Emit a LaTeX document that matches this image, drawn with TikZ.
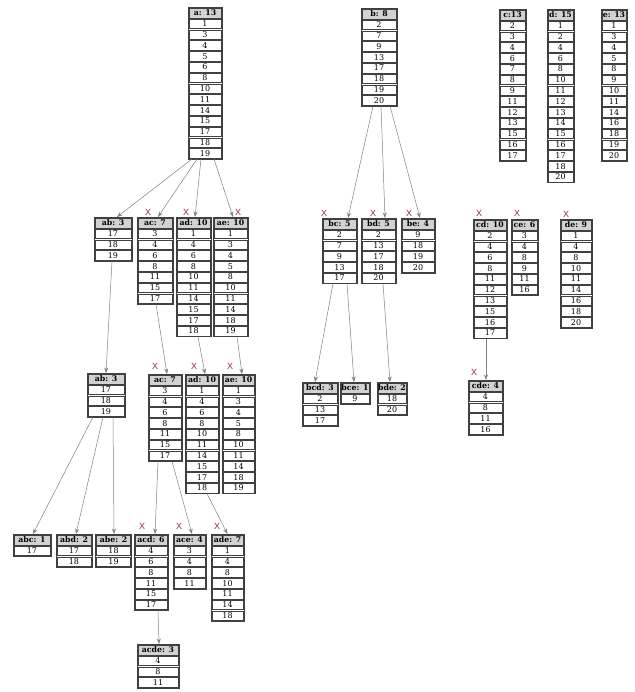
\documentclass[tikz,border=0pt]{standalone}
\usepackage{fontspec}
\setmainfont{DejaVu Serif}
\setsansfont{Liberation Sans}
\usetikzlibrary{arrows.meta}
\definecolor{cutred}{RGB}{150,35,70}
\definecolor{headgray}{RGB}{210,210,210}

\begin{document}
\begin{tikzpicture}[x=1pt, y=-1pt,
		cell/.style={draw=black!75, fill=white, line width=0.45pt, inner sep=0pt,
			minimum height=9.6pt, text height=5.9pt, text depth=0.3pt, anchor=north,
			font=\fontsize{8}{8}\selectfont},
		head/.style={cell, fill=headgray, font=\fontsize{7.8}{8}\selectfont\bfseries},
		frame/.style={draw=black!75, line width=0.55pt},
		link/.style={draw=gray, line width=0.5pt, -{Stealth[length=5.5pt, width=4pt]}},
		cut/.style={text=cutred, font=\sffamily\fontsize{9}{9}\selectfont, inner sep=0pt}]
		\useasboundingbox (0,0) rectangle (634,692);
		% one column per itemset: header, then its tid list
		\foreach \col/\cx/\ytop/\colw/\hd/\tids in {
			a/205/8/34/{a: 13}/{1,3,4,5,6,8,10,11,14,15,17,18,19},
			b/379/9/36/{b: 8}/{2,7,9,13,17,18,19,20},
			c/512.5/10/27/{c:13}/{2,3,4,6,7,8,9,11,12,13,15,16,17},
			d/560.5/10/27/{d: 15}/{1,2,4,6,8,10,11,12,13,14,15,16,17,18,20},
			e/614/10/26/{e: 13}/{1,3,4,5,8,9,10,11,14,16,18,19,20},
			ab/113/218/38/{ab: 3}/{17,18,19},
			ac/155/218/36/{ac: 7}/{3,4,6,8,11,15,17},
			ad/193.5/218/35/{ad: 10}/{1,4,6,8,10,11,14,15,17,18},
			ae/230.5/218/35/{ae: 10}/{1,3,4,5,8,10,11,14,18,19},
			bc/339.5/219/35/{bc: 5}/{2,7,9,13,17},
			bd/378.5/219/35/{bd: 5}/{2,13,17,18,20},
			be/418/219/34/{be: 4}/{9,18,19,20},
			cd/490/220/34/{cd: 10}/{2,4,6,8,11,12,13,15,16,17},
			ce/524.5/220/27/{ce: 6}/{3,4,8,9,11,16},
			de/576/220/32/{de: 9}/{1,4,8,10,11,14,16,18,20},
			ab2/106/374/38/{ab: 3}/{17,18,19},
			ac2/165/375/34/{ac: 7}/{3,4,6,8,11,15,17},
			ad2/202/375/34/{ad: 10}/{1,4,6,8,10,11,14,15,17,18},
			ae2/238.5/375/33/{ae: 10}/{1,3,4,5,8,10,11,14,18,19},
			bcd/320/383/36/{bcd: 3}/{2,13,17},
			bce/355/383/30/{bce: 1}/{9},
			bde/392/383/30/{bde: 2}/{18,20},
			cde/485.5/381/35/{cde: 4}/{4,8,11,16},
			abc/32/535/38/{abc: 1}/{17},
			abd/74/535/36/{abd: 2}/{17,18},
			abe/113.5/535/36/{abe: 2}/{18,19},
			acd/151/535/34/{acd: 6}/{4,6,8,11,15,17},
			ace/189.5/535/33/{ace: 4}/{3,4,8,11},
			ade/227.5/535/33/{ade: 7}/{1,4,8,10,11,14,18},
			acde/158/645/42/{acde: 3}/{4,8,11}}{
			\node[head, minimum width={\colw-2}] (\col) at (\cx,\ytop) {\hd};
			\coordinate (\col-in) at (\cx,{\ytop-1});
			\coordinate (\col-nw) at ({\cx-\colw/2},{\ytop-1});
			\foreach \v [count=\i] in \tids {
				\node[cell, minimum width={\colw-2}] (\col-\i) at (\cx,{\ytop+\i*10.8}) {\v};
				\coordinate (\col-out) at (\cx,{\ytop+\i*10.8+10.6});
				\coordinate (\col-se) at ({\cx+\colw/2},{\ytop+\i*10.8+10.6});
			}
			\draw[frame] (\col-nw) rectangle (\col-se);
		}
		% extensions
		\foreach \src/\sx/\dst/\dx in {a/-13/ab/4, a/-8/ac/3, a/-4/ad/1.5, a/9/ae/2.5,
			ab/-1/ab2/0, ac/1/ac2/2, ad/4.5/ad2/3, ae/6.5/ae2/3.5,
			b/-6/bc/8.5, b/2/bd/6.5, b/11/be/2,
			bc/-6.5/bcd/-5, bc/7.5/bce/-1, bd/4.5/bde/-2, cd/-4/cde/0.5,
			ab2/-13/abc/1, ab2/-3/abd/2, ab2/7/abe/0.5,
			ac2/-7/acd/4, ac2/7/ace/2.5, ad2/5/ade/0, acd/7/acde/1}{
			\draw[link] ([xshift=\sx]\src-out) -- ([xshift=\dx]\dst-in);
		}
		% pruned sets
		\foreach \n/\dx/\up [count=\k] in {ac/-7/5, ad/-7.5/5, ae/7.5/5,
			bc/-15.5/5, bd/-5.5/5, be/-9/5, cd/-11/6, ce/-7.5/6, de/-10/5,
			ac2/-10/8, ad2/-8/8, ae2/-8.5/8, cde/-11.5/8,
			acd/-9/8, ace/-10.5/8, ade/-10.5/8}{
			\node[cut] (cut-\k) at ([xshift=\dx, yshift=\up]\n-in) {X};
		}
	\end{tikzpicture}
\end{document}
